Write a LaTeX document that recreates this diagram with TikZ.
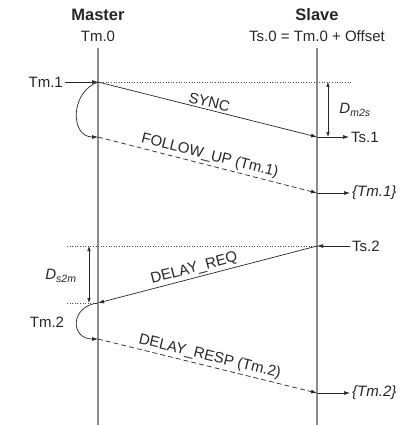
\documentclass[tikz,border=0pt]{standalone}
\usepackage{fontspec}
\setmainfont{Liberation Sans}
\usetikzlibrary{positioning,arrows.meta,calc}
\tikzset{
  ptp/.style={font=\fontsize{15}{17}\selectfont, text=black!85},
  ptphead/.style={font=\fontsize{16.5}{18}\selectfont\bfseries, text=black!85},
  ptplife/.style={draw=black!45, line width=1.6pt},
  ptparr/.style={-{Latex[length=6pt,width=4pt]}, line width=0.7pt, draw=black!85},
  ptpdarr/.style={ptparr, dash pattern=on 5pt off 3pt},
  ptpdim/.style={{Latex[length=5pt,width=3.5pt]}-{Latex[length=5pt,width=3.5pt]}, line width=0.6pt, draw=black!85},
  ptpguide/.style={dotted, line width=0.6pt, draw=black!70},
  ptplbl/.style={ptp, inner sep=2pt},
}

\begin{document}
\begin{tikzpicture}[x=1pt, y=-1pt, ptp]
    \useasboundingbox (0,0) rectangle (411,425);

    % Kopf
    \node[ptphead] (master) at (98,15) {Master};
    \node[ptp] (tm0) at (98,36) {Tm.0};
    \node[ptphead] (slave) at (317,15) {Slave};
    \node[ptp] (ts0) at (317,36) {Ts.0 = Tm.0 + Offset};

    % Zeitlinien
    \coordinate (mtop) at (98,48);
    \coordinate (mbot) at (98,425);
    \coordinate (stop) at (317,48);
    \coordinate (sbot) at (317,425);
    \draw[ptplife] (mtop) -- (mbot);
    \draw[ptplife] (stop) -- (sbot);

    % Ereignisse
    \coordinate (m1) at (98,82);
    \coordinate (s1) at (317,137);
    \coordinate (m1f) at (98,137);
    \coordinate (s1f) at (317,193);
    \coordinate (s2) at (317,246);
    \coordinate (m2) at (98,303);
    \coordinate (m2r) at (98,339);
    \coordinate (s2r) at (317,393);

    % Hilfslinien
    \coordinate (g1) at (351,82);
    \coordinate (g2) at (67,246);
    \coordinate (g3) at (67,303);
    \draw[ptpguide] (m1) -- (g1);
    \draw[ptpguide] (g2) -- (s2);
    \draw[ptpguide] (g3) -- (m2);

    % Zeitstempel
    \node[ptplbl, left=33pt of m1] (tm1) {Tm.1};
    \node[ptplbl, right=32pt of s1] (ts1) {Ts.1};
    \node[ptplbl, right=33pt of s1f] (tm1c) {\itshape\{Tm.1\}};
    \node[ptplbl, right=33pt of s2] (ts2) {Ts.2};
    \node[ptplbl] (tm2) at (47,322) {Tm.2};
    \node[ptplbl, right=33pt of s2r] (tm2c) {\itshape\{Tm.2\}};

    \draw[ptparr] (tm1) -- (m1);
    \draw[ptparr] (s1) -- (ts1);
    \draw[ptparr] (s1f) -- (tm1c);
    \draw[ptparr] (ts2) -- (s2);
    \draw[ptparr] (s2r) -- (tm2c);

    % Laufzeiten
    \coordinate (dmt) at (328,82);
    \coordinate (dmb) at (328,137);
    \coordinate (dst) at (89,246);
    \coordinate (dsb) at (89,303);
    \draw[ptpdim] (dmt) -- (dmb);
    \draw[ptpdim] (dst) -- (dsb);
    \node[ptp] (dm2s) at (355,110) {\itshape D\textsubscript{m2s}};
    \node[ptp] (ds2m) at (61,276) {\itshape D\textsubscript{s2m}};

    % Nachrichten
    \draw[ptparr] (m1) -- node[ptplbl, sloped, above] (lsync) {SYNC} (s1);
    \draw[ptpdarr] (m1f) -- node[ptplbl, sloped, above] (lfollow) {FOLLOW\_UP (Tm.1)} (s1f);
    \draw[ptparr] (s2) -- node[ptplbl, sloped, above, pos=0.55] (lreq) {DELAY\_REQ} (m2);
    \draw[ptpdarr] (m2r) -- node[ptplbl, sloped, above] (lresp) {DELAY\_RESP (Tm.2)} (s2r);

    \draw[ptparr] (m1) .. controls (70,92) and (70,137) .. (m1f);
    \draw[ptparr] (m2) .. controls (70,306) and (70,339) .. (m2r);
\end{tikzpicture}
\end{document}
